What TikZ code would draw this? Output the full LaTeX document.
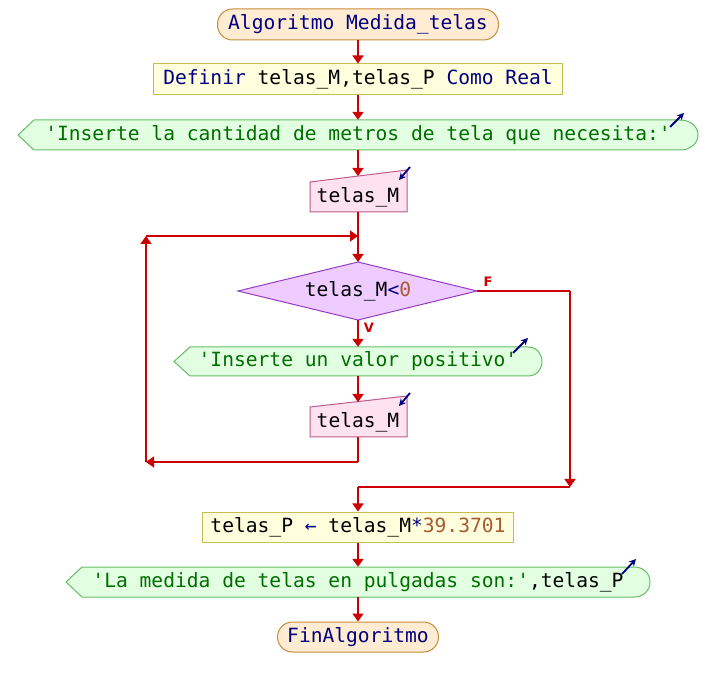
\documentclass[tikz,border=0pt]{standalone}
\usepackage{fontspec}
\newfontfamily\mono{DejaVu Sans Mono}
\newfontfamily\lbl{DejaVu Sans}
\usetikzlibrary{arrows.meta}
\definecolor{arrowred}{RGB}{204,0,0}
\definecolor{kw}{RGB}{0,0,128}
\definecolor{strg}{RGB}{0,110,0}
\definecolor{num}{RGB}{170,90,50}
\definecolor{termfill}{RGB}{255,236,210}
\definecolor{termdraw}{RGB}{200,140,60}
\definecolor{deffill}{RGB}{255,255,221}
\definecolor{defdraw}{RGB}{200,190,80}
\definecolor{outfill}{RGB}{226,255,226}
\definecolor{outdraw}{RGB}{100,190,100}
\definecolor{readfill}{RGB}{255,226,240}
\definecolor{readdraw}{RGB}{190,90,140}
\definecolor{diafill}{RGB}{238,204,255}
\definecolor{diadraw}{RGB}{150,60,200}
\begin{document}
\begin{tikzpicture}[x=1pt,y=-1pt,
  txt/.style={font=\mono\fontsize{19.6}{22}\selectfont, inner sep=0pt, text=black},
  term/.style={txt, draw=termdraw, fill=termfill, line width=1pt, rounded corners=15pt},
  defbox/.style={txt, draw=defdraw, fill=deffill, line width=1pt},
  outsh/.style={draw=outdraw, fill=outfill, line width=1pt},
  readsh/.style={draw=readdraw, fill=readfill, line width=1pt},
  diash/.style={draw=diadraw, fill=diafill, line width=1pt},
  flow/.style={draw=arrowred, line width=1.7pt, -{Triangle[length=8pt,width=11pt]}},
  plain/.style={draw=arrowred, line width=1.7pt},
  icon/.style={draw=kw, line width=1.8pt, -{Stealth[length=7pt,width=7pt]}},
  lab/.style={font=\lbl\bfseries\fontsize{13}{14}\selectfont, text=arrowred, inner sep=0pt}
]
\useasboundingbox (0,0) rectangle (716,687);

% start
\node[term, minimum width=281pt, minimum height=31pt] (start) at (358,24.5) {\textcolor{kw}{Algoritmo Medida\_telas}};
% definir
\node[defbox, minimum width=409pt, minimum height=31pt] (def) at (358,79.5) {\textcolor{kw}{Definir} telas\_M,telas\_P \textcolor{kw}{Como Real}};

% output 1
\path[outsh] (18,135) -- (34,120) -- (680,120) .. controls (691,120) and (698,127) .. (698,135) .. controls (698,143) and (691,150) .. (680,150) -- (34,150) -- cycle;
\node[txt, minimum height=30pt] (o1) at (358,135) {\textcolor{strg}{'Inserte la cantidad de metros de tela que necesita:'}};
\draw[icon] (670,127) -- (684,113);

% read 1
\path[readsh] (310,212) -- (310,182) -- (407,170) -- (407,212) -- cycle;
\coordinate (r1top) at (358,176);
\node[txt, minimum height=30pt] (r1) at (358,197) {telas\_M};
\draw[icon] (410,167) -- (399,180);

% decision
\path[diash] (238,291) -- (358,262) -- (477,291) -- (358,320) -- cycle;
\node[txt] (dtxt) at (358,291) {telas\_M\textcolor{kw}{<}\textcolor{num}{0}};
\coordinate (dtop) at (358,262);
\coordinate (dbot) at (358,320);
\coordinate (dright) at (477,291);
\node[lab] (flab) at (488,282) {F};
\node[lab] (vlab) at (369,328) {V};

% output 2
\path[outsh] (174,361.5) -- (190,347) -- (528,347) .. controls (537,347) and (542,354) .. (542,361.5) .. controls (542,369) and (537,376) .. (528,376) -- (190,376) -- cycle;
\node[txt, minimum height=29pt] (o2) at (358,361.5) {\textcolor{strg}{'Inserte un valor positivo'}};
\draw[icon] (513,353) -- (528,338);

% read 2
\path[readsh] (310,437) -- (310,407) -- (407,396) -- (407,437) -- cycle;
\coordinate (r2top) at (358,402);
\node[txt, minimum height=30pt] (r2) at (358,422) {telas\_M};
\draw[icon] (410,393) -- (399,406);

% loop coordinates
\coordinate (merge) at (358,236);
\coordinate (lb) at (358,462);
\coordinate (lbl) at (146,462);
\coordinate (ltl) at (146,236);
\coordinate (fr) at (570,291);
\coordinate (fb) at (570,487);
\coordinate (join) at (358,487);

% assignment
\node[defbox, minimum width=311pt, minimum height=30pt] (asg) at (358,527) {telas\_P \textcolor{kw}{←} telas\_M\textcolor{kw}{*}\textcolor{num}{39.3701}};

% output 3
\path[outsh] (66,582) -- (82,567) -- (634,567) .. controls (644,567) and (650,574) .. (650,582) .. controls (650,590) and (644,597) .. (634,597) -- (82,597) -- cycle;
\node[txt, minimum height=30pt] (o3) at (358,582) {\textcolor{strg}{'La medida de telas en pulgadas son:'},telas\_P};
\draw[icon] (622,574) -- (636,559);

% end
\node[term, minimum width=161pt, minimum height=30pt] (fin) at (358,637) {\textcolor{kw}{FinAlgoritmo}};

% connectors
\draw[flow] (start.south) -- (def.north);
\draw[flow] (def.south) -- (o1.north);
\draw[flow] (o1.south) -- (r1top);
\draw[plain] (r1.south) -- (merge);
\draw[flow] (merge) -- (dtop);
\draw[flow] (dbot) -- (o2.north);
\draw[flow] (o2.south) -- (r2top);
\draw[plain] (r2.south) -- (lb);
\draw[flow] (lb) -- (lbl);
\draw[flow] (lbl) -- (ltl);
\draw[flow] (ltl) -- (merge);
\draw[plain] (dright) -- (fr);
\draw[flow] (fr) -- (fb);
\draw[plain] (fb) -- (join);
\draw[flow] (join) -- (asg.north);
\draw[flow] (asg.south) -- (o3.north);
\draw[flow] (o3.south) -- (fin.north);
\end{tikzpicture}
\end{document}
